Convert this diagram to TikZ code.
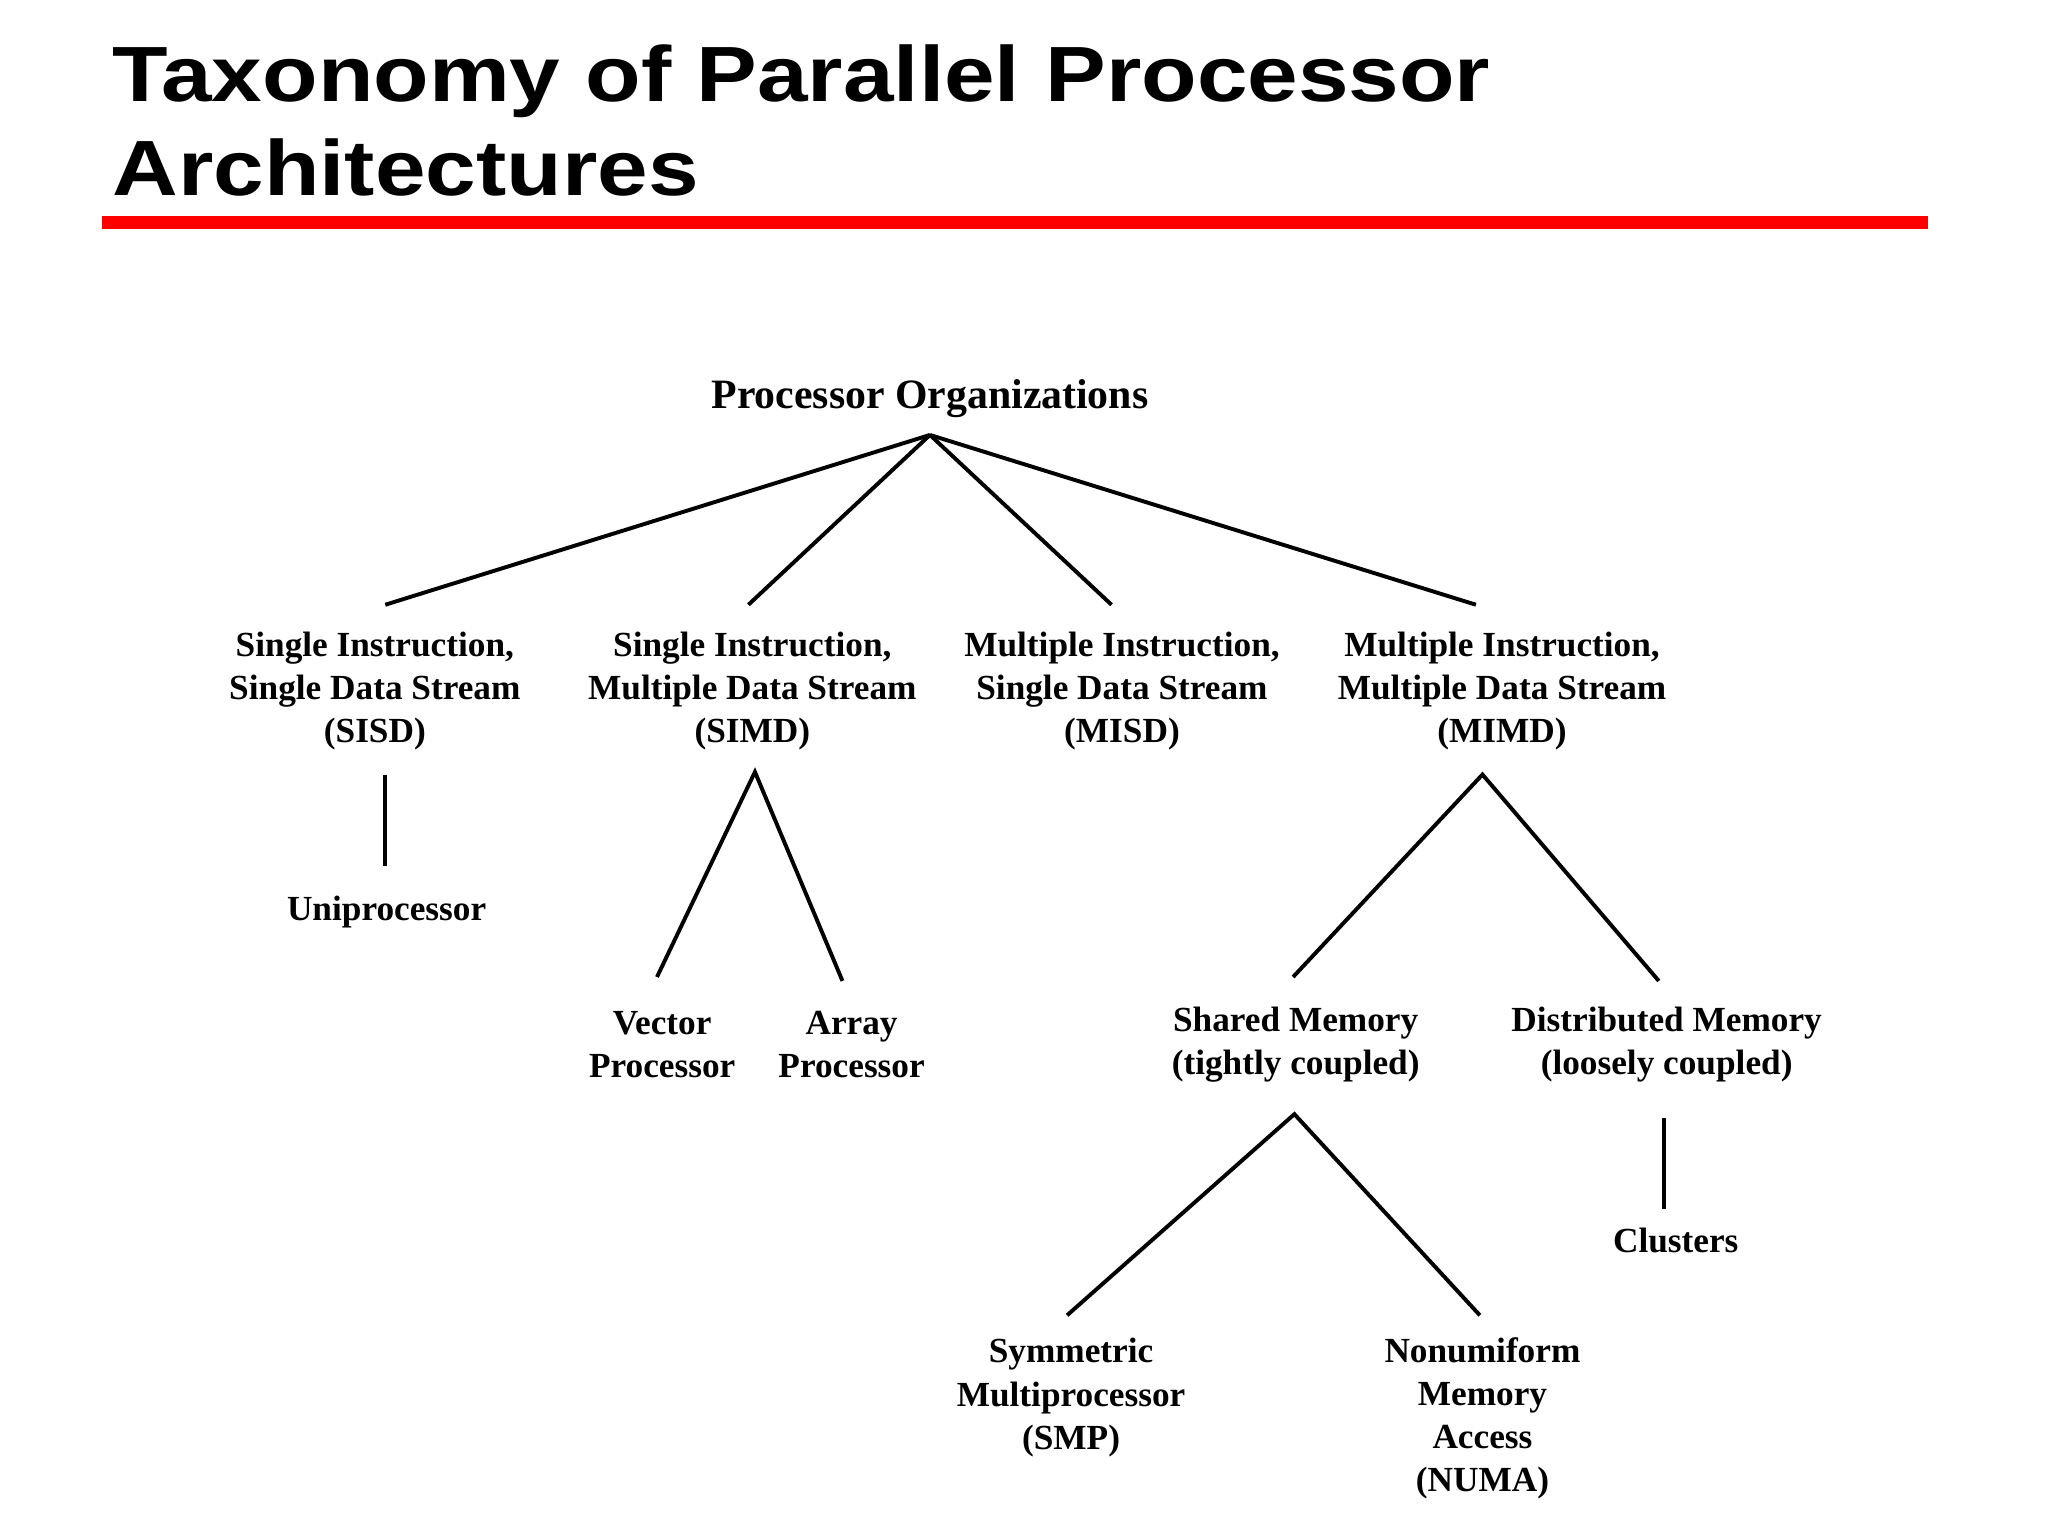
\documentclass[tikz,border=0pt]{standalone}
\usepackage{fontspec}
\setmainfont{Liberation Serif}
\newfontfamily\titlefont{Liberation Sans}
\begin{document}
\begin{tikzpicture}[x=1pt,y=-1pt,
  lbl/.style={align=center,font=\fontsize{27}{33}\selectfont\bfseries,inner sep=0},
  ttl/.style={anchor=base west,inner sep=0,font=\titlefont\fontsize{60}{73}\selectfont\bfseries},
  edge/.style={line width=3pt}]
\useasboundingbox (0,0) rectangle (1568,1176);
\node[ttl] (t1) at (86,78) {\scalebox{1.16}[1]{Taxonomy of Parallel Processor}};
\node[ttl] (t2) at (86,150) {\scalebox{1.16}[1]{Architectures}};
\fill[red] (78,165) rectangle (1476,175);
\node[lbl,font=\fontsize{32}{33}\selectfont\bfseries] (root) at (712,305) {Processor Organizations};
\coordinate (r) at (712,333);
\coordinate (a1) at (295,463);\coordinate (a2) at (573,463);\coordinate (a3) at (851,463);\coordinate (a4) at (1130,463);
\foreach \c in {a1,a2,a3,a4} \draw[edge] (r) -- (\c);
\node[lbl] (sisd) at (287,529) {Single Instruction,\\Single Data Stream\\(SISD)};
\node[lbl] (simd) at (576,529) {Single Instruction,\\Multiple Data Stream\\(SIMD)};
\node[lbl] (misd) at (859,529) {Multiple Instruction,\\Single Data Stream\\(MISD)};
\node[lbl] (mimd) at (1150,529) {Multiple Instruction,\\Multiple Data Stream\\(MIMD)};
\coordinate (s1) at (295,593);\coordinate (s2) at (295,663);
\draw[edge] (s1) -- (s2);
\node[lbl] (uni) at (296,698) {Uniprocessor};
\coordinate (m0) at (578,591);\coordinate (m1) at (503,748);\coordinate (m2) at (645,751);
\draw[edge] (m1) -- (m0) -- (m2);
\node[lbl] (vec) at (507,800) {Vector\\Processor};
\node[lbl] (arr) at (652,800) {Array\\Processor};
\coordinate (d0) at (1135,593);\coordinate (d1) at (990,748);\coordinate (d2) at (1270,751);
\draw[edge] (d1) -- (d0) -- (d2);
\node[lbl] (sh) at (992,800) {Shared Memory\\(tightly coupled)};
\node[lbl] (di) at (1276,800) {Distributed Memory\\(loosely coupled)};
\coordinate (e0) at (991,853);\coordinate (e1) at (817,1007);\coordinate (e2) at (1133,1007);
\draw[edge] (e1) -- (e0) -- (e2);
\coordinate (c1) at (1274,856);\coordinate (c2) at (1274,926);
\draw[edge] (c1) -- (c2);
\node[lbl] (cl) at (1283,950) {Clusters};
\node[lbl] (smp) at (820,1070) {Symmetric\\Multiprocessor\\(SMP)};
\node[lbl] (numa) at (1135,1086) {Nonumiform\\Memory\\Access\\(NUMA)};
\end{tikzpicture}
\end{document}
